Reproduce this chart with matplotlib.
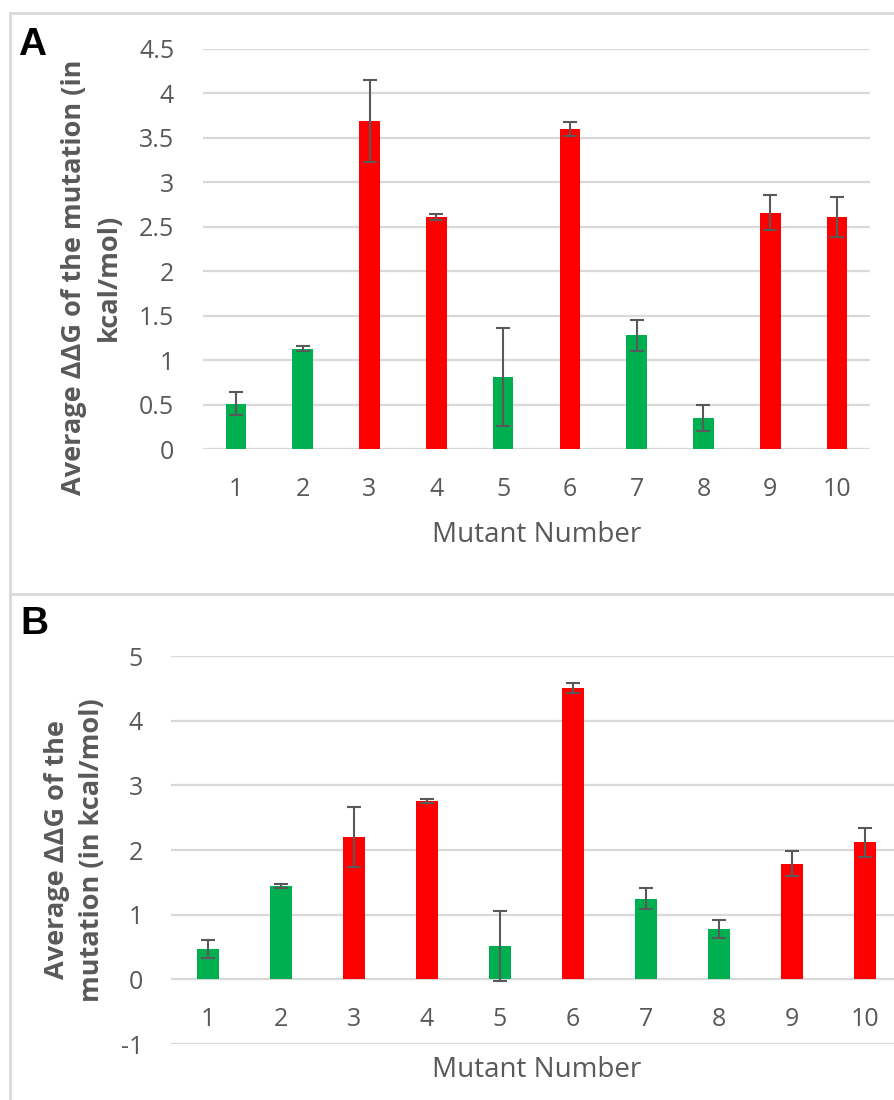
import matplotlib
matplotlib.use("Agg")
import matplotlib.pyplot as plt
from matplotlib.lines import Line2D

# data
mutants = [1, 2, 3, 4, 5, 6, 7, 8, 9, 10]
stabilising = [True, True, False, False, True, False, True, True, False, False]

ddg_a = [0.51, 1.13, 3.69, 2.61, 0.81, 3.60, 1.28, 0.35, 2.66, 2.61]
err_a = [0.13, 0.03, 0.46, 0.03, 0.55, 0.075, 0.17, 0.145, 0.195, 0.225]

ddg_b = [0.47, 1.44, 2.20, 2.76, 0.51, 4.51, 1.25, 0.78, 1.79, 2.12]
err_b = [0.135, 0.03, 0.46, 0.03, 0.54, 0.08, 0.17, 0.145, 0.19, 0.225]

GREEN = "#00B050"
RED = "#FF0000"
TXT = "#595959"
GRID = "#D9D9D9"

plt.rcParams["font.family"] = ["Open Sans", "DejaVu Sans"]

W, H = 895, 1100
fig = plt.figure(figsize=(W / 100, H / 100), dpi=100)


def px_axes(left, right, top, bottom):
    return fig.add_axes([left / W, 1 - bottom / H, (right - left) / W, (bottom - top) / H])


def draw_panel(ax, vals, errs, ylim, step):
    colors = [GREEN if s else RED for s in stabilising]
    ax.bar(mutants, vals, width=0.31, color=colors, zorder=3)
    ax.errorbar(mutants, vals, yerr=errs, fmt="none", ecolor=TXT,
                elinewidth=1.5, capsize=5, capthick=1.5, zorder=4)
    ax.set_xlim(0.5, 10.5)
    ax.set_ylim(*ylim)
    ticks = []
    v = ylim[0]
    while v <= ylim[1] + 1e-9:
        ticks.append(round(v, 2))
        v += step
    ax.set_yticks(ticks)
    ax.set_yticklabels([f"{t:g}" for t in ticks])
    ax.set_xticks(mutants)
    ax.grid(axis="y", color=GRID, linewidth=1.6, zorder=0)
    ax.set_axisbelow(True)
    for s in ["top", "right", "left"]:
        ax.spines[s].set_visible(False)
    ax.spines["bottom"].set_position(("data", 0))
    ax.spines["bottom"].set_color("none")
    ax.tick_params(axis="y", length=0, pad=20.5, labelsize=18, labelcolor=TXT)
    ax.tick_params(axis="x", length=0, pad=20, labelsize=18, labelcolor=TXT)


# panel A
ax_a = px_axes(202.6, 870.4, 48.8, 449.3)
draw_panel(ax_a, ddg_a, err_a, (0, 4.5), 0.5)

# panel B
ax_b = px_axes(171.5, 901.5, 656, 1044)
draw_panel(ax_b, ddg_b, err_b, (-1, 5), 1)

# axis titles
fig.text(91.5 / W, 1 - 277 / H, "Average \u0394\u0394G of the mutation (in\nkcal/mol)",
         rotation=90, ha="center", va="center", fontsize=19.5, fontweight="bold",
         color=TXT, linespacing=1.4)
fig.text(74.5 / W, 1 - 850 / H, "Average \u0394\u0394G of the\nmutation (in kcal/mol)",
         rotation=90, ha="center", va="center", fontsize=19.5, fontweight="bold",
         color=TXT, linespacing=1.45)
fig.text(537 / W, 1 - 535 / H, "Mutant Number", ha="center", va="center",
         fontsize=20, color=TXT)
fig.text(537 / W, 1 - 1070 / H, "Mutant Number", ha="center", va="center",
         fontsize=20, color=TXT)

# panel letters
fig.text(18 / W, 1 - 45 / H, "A", ha="left", va="center", fontsize=28,
         fontweight="bold", family="Liberation Sans")
fig.text(20 / W, 1 - 624 / H, "B", ha="left", va="center", fontsize=28,
         fontweight="bold", family="Liberation Sans")

# panel frames
for xs, ys in [([10, W], [13, 13]), ([10, 10], [13, H]), ([10, W], [594, 594])]:
    fig.add_artist(Line2D([x / W for x in xs], [1 - y / H for y in ys],
                          color=GRID, linewidth=2))

fig.savefig("out.png", dpi=100, facecolor="white")
